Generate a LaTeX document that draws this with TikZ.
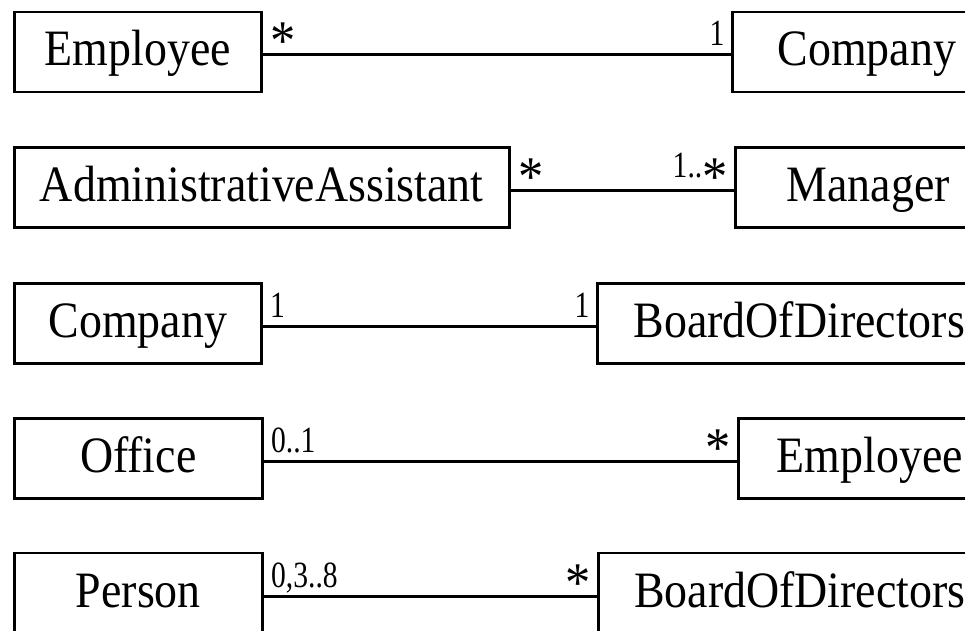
\documentclass[tikz,border=0pt]{standalone}
\usepackage{fontspec}
\newfontfamily\umlfont[FakeStretch=0.9]{Liberation Serif}
\newfontfamily\multfam[FakeStretch=0.8]{Liberation Serif}
\usetikzlibrary{shapes,arrows}
\newcommand{\clsfont}{\umlfont\fontsize{25.5}{30}\selectfont}
\newcommand{\multfont}{\multfam\fontsize{18.5}{22}\selectfont}
\newcommand{\manyfont}{\umlfont\fontsize{28}{32}\selectfont}
\tikzstyle{cls} = [rectangle, draw, line width=1.3pt, anchor=west,
    minimum height=40pt, inner sep=0pt, text height=18pt, text depth=4pt, font=\clsfont]
\tikzstyle{assoc} = [draw, line width=1.5pt]
\tikzstyle{mult} = [inner sep=0pt, font=\multfont, yshift=4.5pt]
\tikzstyle{many} = [inner sep=0pt, font=\manyfont, yshift=-2.5pt]
\tikzstyle{atsrc} = [pos=0, anchor=base west, xshift=3pt]
\tikzstyle{attgt} = [pos=1, anchor=base east, xshift=-2.5pt]

\begin{document}
\begin{tikzpicture}[x=0.5pt, y=-0.5pt]
	\useasboundingbox (0,0) rectangle (965,631);

		\node [cls, minimum width=123.5pt] (emp) at (13,52) {Employee};
		\node [cls, minimum width=134.5pt] (comp) at (731,52) {Company};

		\node [cls, minimum width=247.5pt] (assist) at (13,187.5) {AdministrativeAssistant};
		\node [cls, minimum width=133pt] (mgr) at (734,187.5) {Manager};

		\node [cls, minimum width=123.5pt] (comp2) at (13,323.5) {Company};
		\node [cls, minimum width=202pt] (board) at (596,323.5) {BoardOfDirectors};

		\node [cls, minimum width=124pt] (office) at (13,458.5) {Office};
		\node [cls, minimum width=131.5pt] (emp2) at (737,458.5) {Employee};

		\node [cls, minimum width=124pt] (person) at (13,593) {Person};
		\node [cls, minimum width=201.5pt] (board2) at (597,593) {BoardOfDirectors};

		\path [assoc] ([yshift=-1.5pt]emp.east) -- node[many, atsrc] {*} node[mult, attgt] {1} ([yshift=-1.5pt]comp.west);
		\path [assoc] ([yshift=-1.5pt]assist.east) -- node[many, atsrc] {*} node[many, attgt] {\raisebox{9pt}{\multfont 1..}*} ([yshift=-1.5pt]mgr.west);
		\path [assoc] ([yshift=-1.5pt]comp2.east) -- node[mult, atsrc] {1} node[mult, attgt] {1} ([yshift=-1.5pt]board.west);
		\path [assoc] ([yshift=-1.5pt]office.east) -- node[mult, atsrc] {0..1} node[many, attgt] {*} ([yshift=-1.5pt]emp2.west);
		\path [assoc] ([yshift=-1.5pt]person.east) -- node[mult, atsrc] {0,3..8} node[many, attgt] {*} ([yshift=-1.5pt]board2.west);
	\end{tikzpicture}
\end{document}
